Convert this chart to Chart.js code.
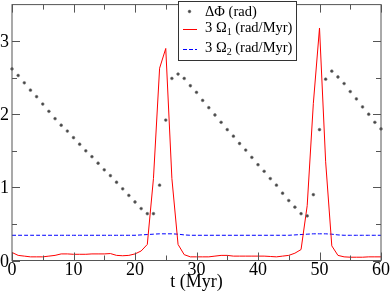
<!DOCTYPE html>
<html>
<head>
<meta charset="utf-8">
<script src="https://cdn.jsdelivr.net/npm/chart.js@4.4.1/dist/chart.umd.min.js"></script>
<style>
  html, body { margin: 0; padding: 0; background: #fff; }
  #wrap { width: 390px; height: 293px; }
</style>
</head>
<body>
<div id="wrap"><canvas id="phaseChart" width="390" height="293"></canvas></div>
<script>
// time in Myr, one sample per Myr
const times = [
  0, 1, 2, 3, 4, 5, 6, 7, 8, 9,
  10, 11, 12, 13, 14, 15, 16, 17, 18, 19,
  20, 21, 22, 23, 24, 25, 26, 27, 28, 29,
  30, 31, 32, 33, 34, 35, 36, 37, 38, 39,
  40, 41, 42, 43, 44, 45, 46, 47, 48, 49,
  50, 51, 52, 53, 54, 55, 56, 57, 58, 59,
  60
];

// delta phi (rad)
const deltaPhi = [
  2.62, 2.53, 2.43, 2.33, 2.24, 2.14, 2.04, 1.94, 1.85, 1.77,
  1.68, 1.59, 1.50, 1.42, 1.33, 1.24, 1.16, 1.07, 0.98, 0.89,
  0.80, 0.71, 0.64, 0.64, 1.03, 1.92, 2.49, 2.55, 2.49, 2.39,
  2.30, 2.19, 2.09, 1.99, 1.89, 1.79, 1.70, 1.60, 1.51, 1.41,
  1.31, 1.22, 1.12, 1.03, 0.92, 0.82, 0.73, 0.64, 0.61, 0.90,
  1.79, 2.48, 2.59, 2.51, 2.42, 2.31, 2.21, 2.10, 2.00, 1.89,
  1.80
];

// 3 omega_1 (rad/Myr)
const omega1 = [
  0.11, 0.07, 0.06, 0.05, 0.05, 0.05, 0.06, 0.07, 0.09, 0.09,
  0.085, 0.085, 0.085, 0.09, 0.09, 0.09, 0.095, 0.07, 0.065, 0.07,
  0.09, 0.13, 0.22, 1.12, 2.63, 2.90, 1.12, 0.22, 0.08, 0.05,
  0.05, 0.05, 0.05, 0.06, 0.07, 0.07, 0.06, 0.06, 0.06, 0.06,
  0.06, 0.06, 0.055, 0.05, 0.06, 0.07, 0.10, 0.15, 0.75, 2.15,
  3.18, 1.35, 0.20, 0.07, 0.05, 0.045, 0.045, 0.045, 0.05, 0.05,
  0.05
];

// 3 omega_2 (rad/Myr)
const omega2 = [
  0.345, 0.345, 0.345, 0.345, 0.345, 0.345, 0.345, 0.345, 0.345, 0.345,
  0.345, 0.345, 0.345, 0.345, 0.345, 0.345, 0.345, 0.345, 0.345, 0.345,
  0.345, 0.35, 0.355, 0.36, 0.365, 0.365, 0.365, 0.36, 0.35, 0.345,
  0.345, 0.345, 0.345, 0.345, 0.345, 0.345, 0.345, 0.345, 0.345, 0.345,
  0.345, 0.345, 0.345, 0.345, 0.345, 0.345, 0.35, 0.355, 0.36, 0.365,
  0.365, 0.365, 0.36, 0.35, 0.345, 0.345, 0.345, 0.345, 0.345, 0.345,
  0.345
];

const xMajorTicks = [0, 10, 20, 30, 40, 50, 60];
const xMinorTicks = [5, 15, 25, 35, 45, 55];
const yMajorTicks = [0, 1, 2, 3];
const yMinorTicks = [0.5, 1.5, 2.5];

const seriesLabels = ["ΔΦ (rad)", "3 Ω1 (rad/Myr)", "3 Ω2 (rad/Myr)"];
const xTitle = "t (Myr)";

const serif = "'Liberation Serif', 'Times New Roman', serif";
const dotFill = "#444";
const dotEdge = "#777";
const red = "#ff0000";
const blue = "#0000ff";
const blueDash = [4, 2];

function toPoints(values) {
  return values.map((v, i) => ({ x: times[i], y: v }));
}

// frame, inward tick marks on all four sides, tick labels and axis title
const frameTicks = {
  id: "frameTicks",
  afterDatasetsDraw(chart) {
    const { ctx, chartArea: a } = chart;
    const xs = chart.scales.x;
    const ys = chart.scales.y;
    ctx.save();
    ctx.strokeStyle = "#555";
    ctx.lineWidth = 1;
    ctx.strokeRect(a.left, a.top, a.right - a.left, a.bottom - a.top);
    ctx.beginPath();
    const xt = (v, len) => {
      const px = Math.round(xs.getPixelForValue(v)) + 0.5;
      ctx.moveTo(px, a.bottom); ctx.lineTo(px, a.bottom - len);
      ctx.moveTo(px, a.top); ctx.lineTo(px, a.top + len);
    };
    const yt = (v, len) => {
      const py = Math.round(ys.getPixelForValue(v)) + 0.5;
      ctx.moveTo(a.left, py); ctx.lineTo(a.left + len, py);
      ctx.moveTo(a.right, py); ctx.lineTo(a.right - len, py);
    };
    xMajorTicks.forEach(v => xt(v, 8));
    xMinorTicks.forEach(v => xt(v, 5));
    yMajorTicks.forEach(v => yt(v, 8));
    yMinorTicks.forEach(v => yt(v, 5));
    ctx.stroke();

    ctx.fillStyle = "#000";
    ctx.font = "18px " + serif;
    ctx.textBaseline = "alphabetic";
    ctx.textAlign = "center";
    xMajorTicks.forEach(v => {
      ctx.fillText(String(v), xs.getPixelForValue(v), a.bottom + 14.5);
    });
    ctx.textAlign = "right";
    yMajorTicks.forEach(v => {
      ctx.fillText(String(v), a.left - 3, ys.getPixelForValue(v) + 6);
    });
    ctx.textAlign = "center";
    ctx.fillText(xTitle, (a.left + a.right) / 2, 287);
    ctx.restore();
  }
};

// legend box drawn inside the plot, top right
const insideLegend = {
  id: "insideLegend",
  afterDraw(chart) {
    const ctx = chart.ctx;
    const bx = 178.5, by = 1.5, bw = 118, bh = 59;
    ctx.save();
    ctx.fillStyle = "#fff";
    ctx.fillRect(bx, by, bw, bh);
    ctx.strokeStyle = "#333";
    ctx.lineWidth = 1;
    ctx.strokeRect(bx, by, bw, bh);

    // symbols
    ctx.fillStyle = dotFill;
    ctx.strokeStyle = dotEdge;
    ctx.lineWidth = 0.6;
    ctx.beginPath();
    ctx.arc(189.5, 11.5, 1.4, 0, Math.PI * 2);
    ctx.fill();
    ctx.stroke();

    ctx.lineWidth = 1;
    ctx.strokeStyle = red;
    ctx.beginPath();
    ctx.moveTo(183, 29.5); ctx.lineTo(197, 29.5);
    ctx.stroke();

    ctx.strokeStyle = blue;
    ctx.setLineDash(blueDash);
    ctx.beginPath();
    ctx.moveTo(183, 49.5); ctx.lineTo(197, 49.5);
    ctx.stroke();
    ctx.setLineDash([]);

    // texts, with real subscripts for the omegas
    ctx.fillStyle = "#000";
    ctx.textBaseline = "alphabetic";
    ctx.textAlign = "left";
    const big = "14.5px " + serif;
    const small = "10px " + serif;
    const tx = 205;
    ctx.font = big;
    ctx.fillText(seriesLabels[0], tx, 16);

    [[seriesLabels[1], 32], [seriesLabels[2], 52]].forEach(([label, y]) => {
      const head = label.slice(0, 3);
      const sub = label.slice(3, 4);
      const tail = label.slice(4);
      let x = tx;
      ctx.font = big;
      ctx.fillText(head, x, y);
      x += ctx.measureText(head).width;
      ctx.font = small;
      ctx.fillText(sub, x, y + 3);
      x += ctx.measureText(sub).width;
      ctx.font = big;
      ctx.fillText(tail, x, y);
    });
    ctx.restore();
  }
};

const ctx = document.getElementById("phaseChart").getContext("2d");

new Chart(ctx, {
  type: "line",
  data: {
    datasets: [
      {
        label: seriesLabels[0],
        data: toPoints(deltaPhi),
        showLine: false,
        pointRadius: 1.4,
        pointBorderWidth: 0.6,
        backgroundColor: dotFill,
        borderColor: dotEdge,
        clip: false,
        order: 1
      },
      {
        label: seriesLabels[1],
        data: toPoints(omega1),
        borderColor: red,
        borderWidth: 1,
        pointRadius: 0,
        tension: 0,
        fill: false,
        order: 2
      },
      {
        label: seriesLabels[2],
        data: toPoints(omega2),
        borderColor: blue,
        borderWidth: 1,
        borderDash: blueDash,
        pointRadius: 0,
        tension: 0,
        fill: false,
        order: 3
      }
    ]
  },
  options: {
    responsive: false,
    animation: false,
    events: [],
    layout: {
      padding: { top: 1, right: 9, left: 12, bottom: 32.5 }
    },
    plugins: {
      legend: { display: false },
      tooltip: { enabled: false }
    },
    scales: {
      x: {
        type: "linear",
        display: false,
        min: 0,
        max: 60
      },
      y: {
        type: "linear",
        display: false,
        min: 0,
        max: 3.5
      }
    }
  },
  plugins: [frameTicks, insideLegend]
});
</script>
</body>
</html>
